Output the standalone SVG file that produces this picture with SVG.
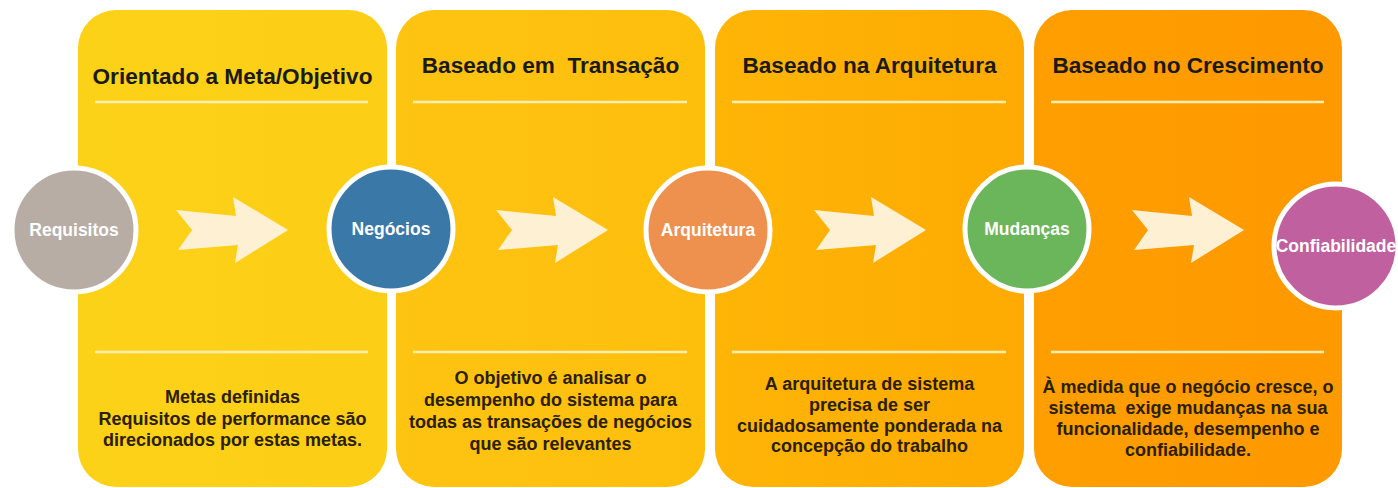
<svg xmlns="http://www.w3.org/2000/svg" width="1398" height="488" viewBox="0 0 1398 488">
<style>
.hdr{font-family:"Liberation Sans",Arial,sans-serif;font-weight:bold;font-size:22.6px;fill:#1a1a1a;text-anchor:middle}
.body{font-family:"Liberation Sans",Arial,sans-serif;font-weight:bold;font-size:18px;fill:#2a2000;text-anchor:middle}
.ctext{font-family:"Liberation Sans",Arial,sans-serif;font-weight:bold;font-size:17.5px;fill:#ffffff;text-anchor:middle}
.sep{stroke:#fdefb2;stroke-width:2.5}
.circ{stroke:#ffffff;stroke-width:5}
.arrow{fill:#fef1d3}
</style>
<defs>
<linearGradient id="g1" x1="0" y1="0" x2="1" y2="0"><stop offset="0" stop-color="#fcd218"/><stop offset="1" stop-color="#fcce16"/></linearGradient>
<linearGradient id="g2" x1="0" y1="0" x2="1" y2="0"><stop offset="0" stop-color="#fec412"/><stop offset="1" stop-color="#febe0c"/></linearGradient>
<linearGradient id="g3" x1="0" y1="0" x2="1" y2="0"><stop offset="0" stop-color="#feb506"/><stop offset="1" stop-color="#feaa02"/></linearGradient>
<linearGradient id="g4" x1="0" y1="0" x2="1" y2="0"><stop offset="0" stop-color="#fe9e00"/><stop offset="1" stop-color="#fe9900"/></linearGradient>
<path id="arr" d="M176,210 L236,216 L233,197 L288,230 L235,263 L238,245 L178,250 L192,230 Z"/>
</defs>
<rect width="1398" height="488" fill="#ffffff"/>

<g id="panel1">
<rect x="78" y="10" width="309" height="477" rx="38" fill="url(#g1)"/>
<text class="hdr" x="232.5" y="84">Orientado a Meta/Objetivo</text>
<line class="sep" x1="95" y1="102" x2="368" y2="102"/>
<line class="sep" x1="95" y1="352" x2="368" y2="352"/>
<text class="body" x="232.5" y="403">Metas definidas</text>
<text class="body" x="232.5" y="425">Requisitos de performance são</text>
<text class="body" x="232.5" y="446">direcionados por estas metas.</text>
</g>

<g id="panel2">
<rect x="396" y="10" width="309" height="477" rx="38" fill="url(#g2)"/>
<text class="hdr" x="550.5" y="73" xml:space="preserve">Baseado em  Transação</text>
<line class="sep" x1="413" y1="102" x2="687" y2="102"/>
<line class="sep" x1="413" y1="352" x2="687" y2="352"/>
<text class="body" x="550.5" y="384">O objetivo é analisar o</text>
<text class="body" x="550.5" y="406">desempenho do sistema para</text>
<text class="body" x="550.5" y="428">todas as transações de negócios</text>
<text class="body" x="550.5" y="450">que são relevantes</text>
</g>

<g id="panel3">
<rect x="715" y="10" width="309" height="477" rx="38" fill="url(#g3)"/>
<text class="hdr" x="869.5" y="73">Baseado na Arquitetura</text>
<line class="sep" x1="732" y1="102" x2="1006" y2="102"/>
<line class="sep" x1="732" y1="352" x2="1006" y2="352"/>
<text class="body" x="869.5" y="390">A arquitetura de sistema</text>
<text class="body" x="869.5" y="411">precisa de ser</text>
<text class="body" x="869.5" y="432">cuidadosamente ponderada na</text>
<text class="body" x="869.5" y="452">concepção do trabalho</text>
</g>

<g id="panel4">
<rect x="1034" y="10" width="308" height="477" rx="38" fill="url(#g4)"/>
<text class="hdr" x="1188" y="73">Baseado no Crescimento</text>
<line class="sep" x1="1051" y1="102" x2="1324" y2="102"/>
<line class="sep" x1="1051" y1="352" x2="1324" y2="352"/>
<text class="body" x="1188" y="393">À medida que o negócio cresce, o</text>
<text class="body" x="1188" y="414" xml:space="preserve">sistema  exige mudanças na sua</text>
<text class="body" x="1188" y="435">funcionalidade, desempenho e</text>
<text class="body" x="1188" y="456">confiabilidade.</text>
</g>

<g id="connectors">
<use href="#arr" class="arrow"/>
<use href="#arr" class="arrow" transform="translate(320,0)"/>
<use href="#arr" class="arrow" transform="translate(638,0)"/>
<use href="#arr" class="arrow" transform="translate(956,0)"/>
</g>

<g id="requisitos">
<circle class="circ" cx="74" cy="230" r="62" fill="#b8ada4"/>
<text class="ctext" x="74" y="236">Requisitos</text>
</g>
<g id="negocios">
<circle class="circ" cx="391" cy="229" r="62" fill="#3a78a8"/>
<text class="ctext" x="391" y="235">Negócios</text>
</g>
<g id="arquitetura">
<circle class="circ" cx="708" cy="230" r="62" fill="#ee914f"/>
<text class="ctext" x="708" y="236">Arquitetura</text>
</g>
<g id="mudancas">
<circle class="circ" cx="1027" cy="229" r="62" fill="#6bb55b"/>
<text class="ctext" x="1027" y="235">Mudanças</text>
</g>
<g id="confiabilidade">
<circle class="circ" cx="1336" cy="246" r="62" fill="#c0609e"/>
<text class="ctext" x="1336" y="252">Confiabilidade</text>
</g>
</svg>
